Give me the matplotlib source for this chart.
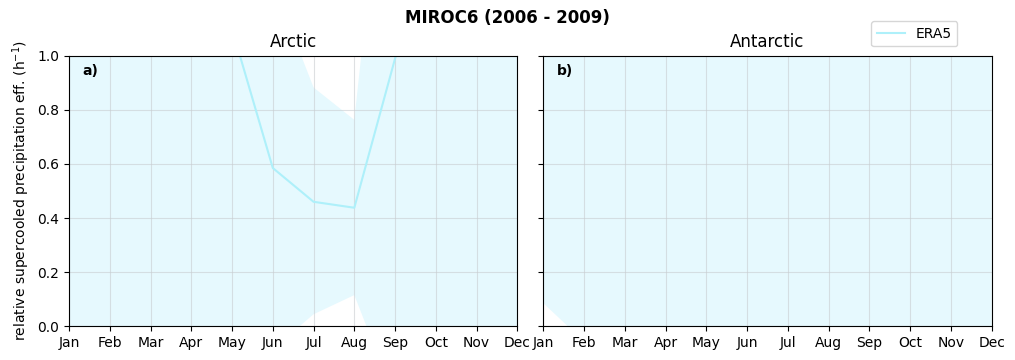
import matplotlib.pyplot as plt
import numpy as np

months = ["Jan", "Feb", "Mar", "Apr", "May", "Jun", "Jul", "Aug", "Sep", "Oct", "Nov", "Dec"]

# ERA5 relative supercooled precipitation efficiency (values > 1 fall outside the axes)
arctic_mean = [1.8, 1.6, 1.5, 1.4, 1.10, 0.585, 0.46, 0.438, 0.99, 1.5, 1.7, 1.8]
arctic_upper = [3.0, 2.8, 2.7, 2.6, 2.2, 1.27, 0.883, 0.763, 2.16, 2.8, 3.0, 3.0]
arctic_lower = [-0.6, -0.6, -0.5, -0.4, -0.2, -0.085, 0.044, 0.115, -0.27, -0.5, -0.6, -0.6]

antarctic_mean = [1.6, 1.5, 1.6, 1.7, 1.8, 1.9, 1.9, 1.8, 1.7, 1.6, 1.5, 1.6]
antarctic_upper = [3.1, 3.0, 3.2, 3.3, 3.4, 3.5, 3.5, 3.4, 3.3, 3.2, 3.0, 3.1]
antarctic_lower = [0.085, -0.057, -0.1, -0.1, -0.2, -0.2, -0.2, -0.2, -0.1, -0.1, -0.1, -0.1]

line_color = "#aef0fa"
fill_color = "#e6f9fe"


def main():
    fig, axes = plt.subplots(1, 2, figsize=(10.15, 3.6), dpi=100, sharey=True)
    fig.subplots_adjust(left=0.068, right=0.977, bottom=0.094, top=0.845, wspace=0.058)
    x = np.arange(len(months))

    panels = [
        (axes[0], "Arctic", "a)", arctic_mean, arctic_lower, arctic_upper),
        (axes[1], "Antarctic", "b)", antarctic_mean, antarctic_lower, antarctic_upper),
    ]
    for ax, title, label, mean, lower, upper in panels:
        ax.fill_between(x, lower, upper, color=fill_color, linewidth=0)
        ax.plot(x, mean, color=line_color, linewidth=1.5, label="ERA5")
        ax.set_title(title)
        ax.set_xlim(0, 11)
        ax.set_ylim(0, 1)
        ax.set_xticks(x)
        ax.set_xticklabels(months)
        ax.grid(True, color="#c8ccd0", alpha=0.6, linewidth=0.8)
        ax.text(0.03, 0.97, label, transform=ax.transAxes, fontweight="bold",
                fontsize=10, va="top", ha="left")

    axes[0].set_ylabel("relative supercooled precipitation eff. (h$^{-1}$)")
    handles, labels = axes[0].get_legend_handles_labels()
    fig.legend(handles, labels, loc="upper right", bbox_to_anchor=(0.95, 0.96))
    fig.suptitle("MIROC6 (2006 - 2009)", fontweight="bold", y=0.975)
    fig.savefig("out.png", dpi=100)


if __name__ == "__main__":
    main()
